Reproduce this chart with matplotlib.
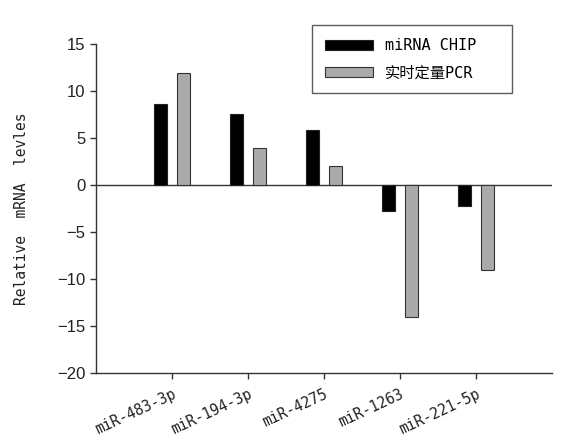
import numpy as np
import matplotlib.pyplot as plt

#%% data
categories = ['miR-483-3p', 'miR-194-3p', 'miR-4275', 'miR-1263', 'miR-221-5p']
chip_values = [8.6, 7.6, 5.85, -2.8, -2.2]
pcr_values = [11.95, 3.9, 2.0, -14.0, -9.05]
series_names = ['miRNA CHIP', '实时定量PCR']

# SimHei-like look: monospace latin, CJK fallback
cjk = ['DejaVu Sans Mono', 'Noto Sans CJK SC']

#%% plot
fig = plt.figure(figsize=(5.71, 4.36), dpi=100)
ax = fig.add_axes([0.168, 0.1445, 0.799, 0.7545])

x_ = np.arange(len(categories))
w_ = 0.175
ax.bar(x_ - 0.15, chip_values, w_, color='black', edgecolor='#222222',
       linewidth=0.8, label=series_names[0], zorder=3)
ax.bar(x_ + 0.15, pcr_values, w_, color='#aaaaaa', edgecolor='#333333',
       linewidth=0.8, label=series_names[1], zorder=3)
ax.axhline(0, color='#333333', lw=1, zorder=2)

ax.set_xlim(-1, 5)
ax.set_ylim(-20, 15)
ax.set_yticks(np.arange(-20, 16, 5))
ax.set_xticks(x_)
ax.set_xticklabels(categories, rotation=25, ha='right', rotation_mode='anchor',
                   family=cjk, fontsize=10.5)
for lab in ax.get_yticklabels():
    lab.set_family(['Liberation Sans', 'DejaVu Sans'])
    lab.set_fontsize(12)
ax.tick_params(direction='out', length=4, width=1, color='#333333', labelcolor='#222222')
ax.tick_params(axis='x', pad=6)

for s in ['top', 'right']:
    ax.spines[s].set_visible(False)
for s in ['left', 'bottom']:
    ax.spines[s].set_color('#333333')
    ax.spines[s].set_linewidth(1)

ax.set_ylabel('Relative  mRNA  levles', family=cjk, fontsize=10.5, color='#222222', labelpad=20)

leg = ax.legend(loc='upper left', bbox_to_anchor=(0.474, 0.85, 0.4386, 0.2078), mode='expand',
                borderaxespad=0, prop={'family': cjk, 'size': 11},
                frameon=True, fancybox=False, edgecolor='#333333', borderpad=0.85,
                handlelength=3.1, handleheight=0.65, labelspacing=0.8, handletextpad=0.8)
leg.get_frame().set_linewidth(1)

fig.savefig('out.png', dpi=100)
